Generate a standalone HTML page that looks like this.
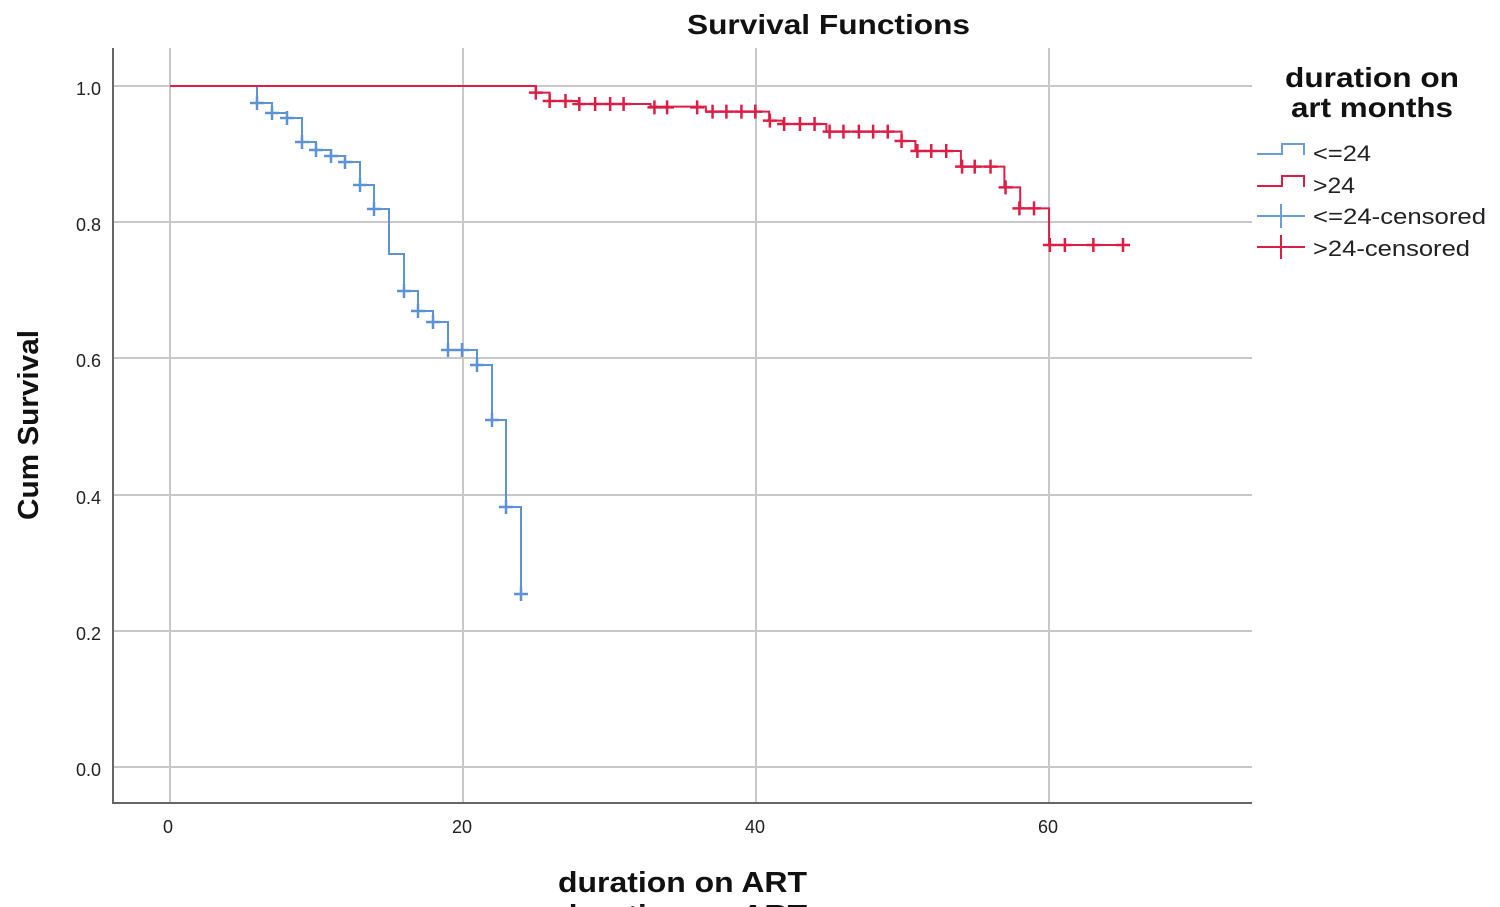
<!DOCTYPE html>
<html><head><meta charset="utf-8"><style>
html,body{margin:0;padding:0;background:#fff;width:1500px;height:907px;overflow:hidden}
svg text{font-family:"Liberation Sans",Arial,sans-serif}
</style></head><body>
<svg id="s" width="1500" height="907" xmlns="http://www.w3.org/2000/svg">
<g stroke="#c8c8c8" stroke-width="2">
<line x1="170" y1="48" x2="170" y2="803"/><line x1="463" y1="48" x2="463" y2="803"/>
<line x1="756" y1="48" x2="756" y2="803"/><line x1="1049" y1="48" x2="1049" y2="803"/>
<line x1="113" y1="86" x2="1252" y2="86"/><line x1="113" y1="222" x2="1252" y2="222"/>
<line x1="113" y1="358" x2="1252" y2="358"/><line x1="113" y1="495" x2="1252" y2="495"/>
<line x1="113" y1="631" x2="1252" y2="631"/><line x1="113" y1="767" x2="1252" y2="767"/>
</g>
<g stroke="#666" stroke-width="2"><line x1="113" y1="48" x2="113" y2="804"/><line x1="112" y1="803" x2="1252" y2="803"/></g>
<g font-size="18" fill="#222" text-anchor="end">
<text x="101" y="95">1.0</text><text x="101" y="231">0.8</text><text x="101" y="367">0.6</text>
<text x="101" y="504">0.4</text><text x="101" y="640">0.2</text><text x="101" y="776">0.0</text>
</g>
<g font-size="18" fill="#222" text-anchor="middle">
<text x="168" y="833">0</text><text x="462" y="833">20</text><text x="755" y="833">40</text><text x="1048" y="833">60</text>
</g>
<text x="687" y="34" font-size="28" font-weight="bold" fill="#111" textLength="283" lengthAdjust="spacingAndGlyphs">Survival Functions</text>
<text x="558" y="892" font-size="29" font-weight="bold" fill="#111" textLength="249" lengthAdjust="spacingAndGlyphs">duration on ART</text>
<text x="558" y="925" font-size="29" font-weight="bold" fill="#111" textLength="249" lengthAdjust="spacingAndGlyphs">duration on ART</text>
<text transform="translate(38,520) rotate(-90)" font-size="29" font-weight="bold" fill="#111" textLength="190" lengthAdjust="spacingAndGlyphs">Cum Survival</text>
<text x="1285" y="87" font-size="28" font-weight="bold" fill="#111" textLength="174" lengthAdjust="spacingAndGlyphs">duration on</text>
<text x="1291" y="117" font-size="28" font-weight="bold" fill="#111" textLength="162" lengthAdjust="spacingAndGlyphs">art months</text>
<g font-size="22" fill="#222">
<text x="1313" y="161" textLength="58" lengthAdjust="spacingAndGlyphs">&lt;=24</text>
<text x="1313" y="193" textLength="42" lengthAdjust="spacingAndGlyphs">&gt;24</text>
<text x="1313" y="224" textLength="173" lengthAdjust="spacingAndGlyphs">&lt;=24-censored</text>
<text x="1313" y="256" textLength="157" lengthAdjust="spacingAndGlyphs">&gt;24-censored</text>
</g>
<g fill="none" stroke-width="2">
<path d="M1257 154H1282V144H1304V155" stroke="#6a9ed8"/>
<path d="M1257 186H1282V176H1304V187" stroke="#dc1e46"/>
<path d="M1257 216H1305M1281 204V228" stroke="#6a9ed8"/>
<path d="M1257 247H1305M1281 235V259" stroke="#dc1e46"/>
</g>
<g id="curves" fill="none" stroke-width="2"></g>
</svg>
<script>
var g=document.getElementById('curves'),NS='http://www.w3.org/2000/svg';
function path(pts,col){var d='M'+pts.map(function(p){return p[0]+' '+p[1]}).join('L');var e=document.createElementNS(NS,'path');e.setAttribute('d',d);e.setAttribute('stroke',col);g.appendChild(e);}
function cens(pts,col){var d='';pts.forEach(function(p){d+='M'+(p[0]-7)+' '+p[1]+'H'+(p[0]+7)+'M'+p[0]+' '+(p[1]-7)+'V'+(p[1]+7);});var e=document.createElementNS(NS,'path');e.setAttribute('d',d);e.setAttribute('stroke',col);e.setAttribute('stroke-width','2.5');g.appendChild(e);}
var B='#5b93d6',R='#dc1e46';
// blue
var bp=[[170,86],[257,86],[257,103],[272,103],[272,113],[287,113],[287,118],[302,118],[302,142],[316,142],[316,150],[331,150],[331,156],[345,156],[345,162],[360,162],[360,185],[374,185],[374,209],[389,209],[389,254],[404,254],[404,291],[418,291],[418,311],[433,311],[433,322],[448,322],[448,350],[477,350],[477,365],[492,365],[492,420],[506,420],[506,507],[521,507],[521,594]];
path(bp,B);
cens([[257,103],[272,113],[287,118],[302,142],[316,150],[331,156],[345,162],[360,185],[374,209],[404,291],[418,311],[433,322],[448,350],[462,350],[477,365],[492,420],[506,507],[521,594]],B);
// red
var rs=[[40,68],[75,93],[148,102],[330,110],[470,125],[630,152],[665,162],[775,185],[965,213],[1000,243],[1115,290],[1225,352],[1265,415],[1338,525]];
var rp=[[170,86]];
rs.forEach(function(s){var x=520+s[0]/2.529,y=70+s[1]/3;rp.push([x,rp[rp.length-1][1]]);rp.push([x,y]);});
rp.push([520+1540/2.529,rp[rp.length-1][1]]);
path(rp,R);
var rc=[[40,68],[75,93],[115,93],[150,102],[190,102],[228,102],[262,102],[340,112],[372,112],[448,112],[487,125],[522,125],[560,125],[595,125],[632,152],[668,162],[708,162],[745,162],[783,185],[818,185],[857,185],[893,185],[930,185],[965,213],[1005,243],[1040,243],[1078,243],[1118,290],[1150,290],[1190,290],[1228,352],[1263,415],[1300,415],[1340,525],[1378,525],[1450,525],[1525,525]].map(function(p){return[520+p[0]/2.529,70+p[1]/3]});
cens(rc,R);
</script>
</body></html>
